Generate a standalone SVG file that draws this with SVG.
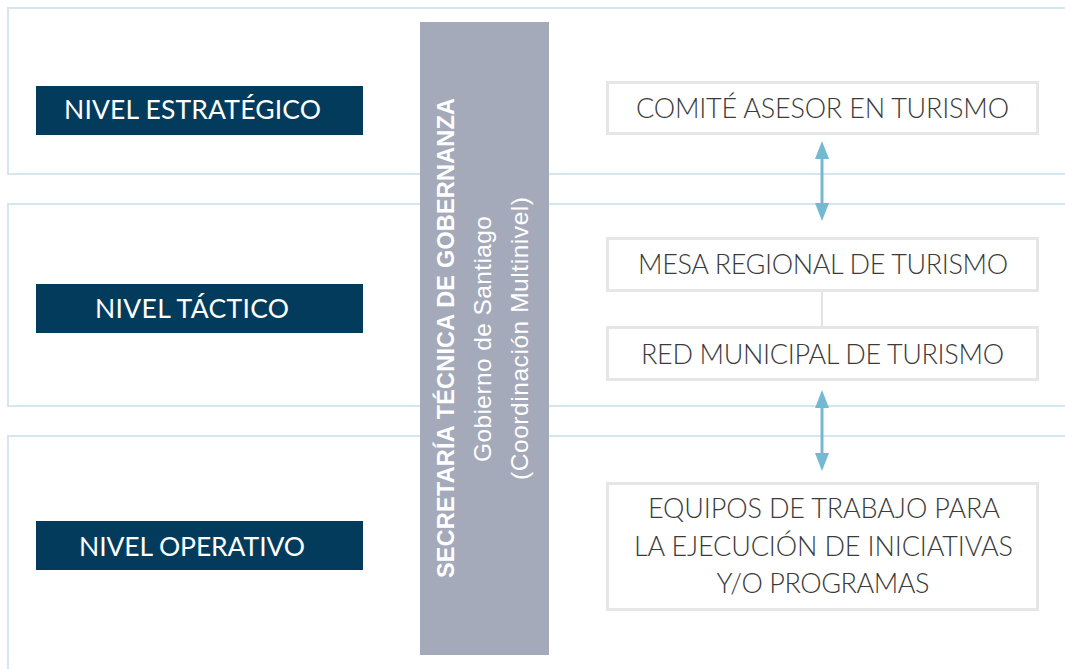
<svg xmlns="http://www.w3.org/2000/svg" width="1065" height="669" viewBox="0 0 1065 669">
<style>
.band{fill:#ffffff;stroke:#d5e6f0;stroke-width:2}
.lvl{fill:#033b5c}
.lvlt{fill:#ffffff;font-family:Lato,"Liberation Sans",sans-serif;font-size:26.5px;text-anchor:middle}
.box{fill:#ffffff;stroke:#e6e6e6;stroke-width:3}
.boxt{fill:#3a3a3a;font-family:Lato,"Liberation Sans",sans-serif;font-weight:300;font-size:27px;text-anchor:middle}
.col{fill:#a5aaba}
.vt{fill:#ffffff;font-family:"Liberation Sans",Arial,sans-serif;text-anchor:middle}
.arr{stroke:#74b9d2;stroke-width:3;fill:none}
.link{stroke:#e3e3e3;stroke-width:2;fill:none}
</style>
<defs>
<marker id="ah" markerUnits="userSpaceOnUse" markerWidth="18" markerHeight="14" refX="10" refY="7" orient="auto-start-reverse" viewBox="0 0 18 14">
<path d="M0,0 L18,7 L0,14 Z" fill="#74b9d2"/>
</marker>
</defs>
<rect width="1065" height="669" fill="#ffffff"/>
<g id="bands">
<rect class="band" x="8" y="8" width="1080" height="166"/>
<rect class="band" x="8" y="204" width="1080" height="202"/>
<rect class="band" x="8" y="436" width="1080" height="260"/>
</g>
<g id="nivel-estrategico">
<rect class="lvl" x="36" y="86" width="327" height="49"/>
<text class="lvlt" x="192.5" y="119" textLength="257" lengthAdjust="spacing">NIVEL ESTRATÉGICO</text>
</g>
<g id="nivel-tactico">
<rect class="lvl" x="36" y="284" width="327" height="49"/>
<text class="lvlt" x="192" y="317.5" textLength="194" lengthAdjust="spacing">NIVEL TÁCTICO</text>
</g>
<g id="nivel-operativo">
<rect class="lvl" x="36" y="521" width="327" height="49"/>
<text class="lvlt" x="192" y="555.5" textLength="226" lengthAdjust="spacing">NIVEL OPERATIVO</text>
</g>
<g id="secretaria">
<rect class="col" x="420" y="22" width="129" height="633"/>
<text class="vt" transform="translate(453.5,338) rotate(-90)" font-size="23.5" font-weight="bold" textLength="480" lengthAdjust="spacing">SECRETARÍA TÉCNICA DE GOBERNANZA</text>
<text class="vt" transform="translate(491,339) rotate(-90)" font-size="24.5" textLength="246" lengthAdjust="spacing">Gobierno de Santiago</text>
<text class="vt" transform="translate(527.5,338.5) rotate(-90)" font-size="24.5" textLength="283" lengthAdjust="spacing">(Coordinación Multinivel)</text>
</g>
<g id="connectors">
<line class="arr" x1="822" y1="149" x2="822" y2="213" marker-start="url(#ah)" marker-end="url(#ah)"/>
<line class="link" x1="822" y1="291" x2="822" y2="327"/>
<line class="arr" x1="822" y1="398" x2="822" y2="463" marker-start="url(#ah)" marker-end="url(#ah)"/>
</g>
<g id="comite">
<rect class="box" x="607.5" y="82.5" width="430" height="51"/>
<text class="boxt" x="822.5" y="118.3" textLength="373" lengthAdjust="spacing">COMITÉ ASESOR EN TURISMO</text>
</g>
<g id="mesa">
<rect class="box" x="607.5" y="238.5" width="430" height="52"/>
<text class="boxt" x="823" y="273.7" textLength="370" lengthAdjust="spacing">MESA REGIONAL DE TURISMO</text>
</g>
<g id="red">
<rect class="box" x="607.5" y="327.5" width="430" height="52"/>
<text class="boxt" x="822.5" y="364" textLength="363" lengthAdjust="spacing">RED MUNICIPAL DE TURISMO</text>
</g>
<g id="equipos">
<rect class="box" x="607.5" y="483.5" width="430" height="126"/>
<text class="boxt" x="824" y="518.3" textLength="352" lengthAdjust="spacing">EQUIPOS DE TRABAJO PARA</text>
<text class="boxt" x="823.5" y="555.7" textLength="379" lengthAdjust="spacing">LA EJECUCIÓN DE INICIATIVAS</text>
<text class="boxt" x="823" y="593.3" textLength="213" lengthAdjust="spacing">Y/O PROGRAMAS</text>
</g>
</svg>
